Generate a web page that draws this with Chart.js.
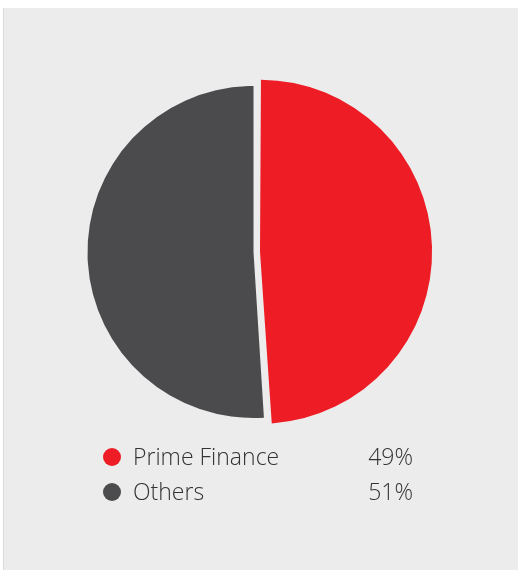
<!DOCTYPE html>
<html>
<head>
<meta charset="utf-8">
<script src="https://cdn.jsdelivr.net/npm/chart.js@4.4.1/dist/chart.umd.min.js"></script>
<style>
  html, body { margin: 0; padding: 0; background: #ffffff; }
  body { width: 520px; height: 570px; position: relative; overflow: hidden; font-family: "Open Sans", "Noto Sans", sans-serif; }
  #panel { position: absolute; left: 3px; top: 8px; width: 515px; height: 562px; background: #ececec; border-left: 1px solid #dadada; box-sizing: border-box; }
  #wrap { position: absolute; left: 0; top: 0; width: 520px; height: 570px; }
  .row { position: absolute; left: 0; width: 520px; height: 30px; font-size: 23px; font-weight: 300; color: #333333; }
  .dot { position: absolute; left: 103px; top: 7px; width: 18px; height: 18px; border-radius: 50%; }
  .name { position: absolute; left: 133px; top: 0; line-height: 30px; }
  .pct { position: absolute; right: 107px; top: 0; line-height: 30px; }
</style>
</head>
<body>
<div id="panel"></div>
<div id="wrap"><canvas id="pie" width="520" height="570"></canvas></div>
<div id="legend"></div>
<script>
// Share of total, in percent
const categories = ["Prime Finance", "Others"];
const shares = [49, 51];
const colors = ["#ee1c25", "#4b4b4d"];

// The highlighted slice is pulled out from the centre (and drawn slightly larger)
const sliceOffset = [26, 0];

new Chart(document.getElementById("pie"), {
  type: "pie",
  data: {
    labels: categories,
    datasets: [{
      data: shares,
      backgroundColor: colors,
      borderWidth: 0,
      offset: sliceOffset,
      radius: 166
    }]
  },
  options: {
    responsive: false,
    animation: false,
    events: [],
    layout: { padding: { left: 0, right: 13, top: 0, bottom: 66 } },
    plugins: { legend: { display: false }, tooltip: { enabled: false } }
  }
});

// Legend rows with the category shares
const legend = document.getElementById("legend");
const rowTops = [441, 476];
categories.forEach((name, i) => {
  const row = document.createElement("div");
  row.className = "row";
  row.style.top = rowTops[i] + "px";
  row.innerHTML = '<span class="dot" style="background:' + colors[i] + '"></span>' +
    '<span class="name">' + name + '</span>' +
    '<span class="pct">' + shares[i] + '%</span>';
  legend.appendChild(row);
});
</script>
</body>
</html>
